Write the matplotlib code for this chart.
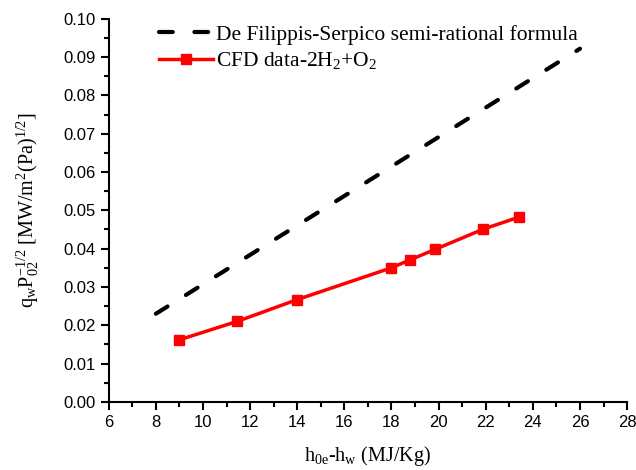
import matplotlib
matplotlib.use('Agg')
import matplotlib.pyplot as plt
from matplotlib.ticker import MultipleLocator, FormatStrFormatter

# Data
formula_h = [8.0, 26.0]
formula_q = [0.0230, 0.0922]

cfd_h = [9.0, 11.45, 14.0, 18.0, 18.8, 19.85, 21.9, 23.4]
cfd_q = [0.0162, 0.0210, 0.0267, 0.0350, 0.0371, 0.0398, 0.0451, 0.0482]

plt.rcParams['mathtext.fontset'] = 'custom'
plt.rcParams['mathtext.rm'] = 'Liberation Serif'
plt.rcParams['mathtext.it'] = 'Liberation Serif'
plt.rcParams['mathtext.default'] = 'rm'

fig = plt.figure(figsize=(6.36, 4.70), dpi=100)
ax = fig.add_axes([0.171, 0.145, 0.815, 0.815])

ax.plot(formula_h, formula_q, color='black', linestyle=(0, (3.3, 5.2)), linewidth=3,
        dash_capstyle='round', label='De Filippis-Serpico semi-rational formula')
ax.plot(cfd_h, cfd_q, color='red', linewidth=2.5, marker='s', markersize=7,
        label=r'CFD data-2H$_2$+O$_2$')

ax.set_xlim(6, 28)
ax.set_ylim(0, 0.10)
ax.xaxis.set_major_locator(MultipleLocator(2))
ax.xaxis.set_minor_locator(MultipleLocator(1))
ax.yaxis.set_major_locator(MultipleLocator(0.01))
ax.yaxis.set_minor_locator(MultipleLocator(0.005))
ax.yaxis.set_major_formatter(FormatStrFormatter('%.2f'))

for s in ['top', 'right']:
    ax.spines[s].set_visible(False)
for s in ['left', 'bottom']:
    ax.spines[s].set_linewidth(1.5)
ax.tick_params(which='major', direction='out', length=6, width=1.5, labelsize=12)
ax.tick_params(which='minor', direction='out', length=3.5, width=1.5)
for lbl in ax.get_xticklabels() + ax.get_yticklabels():
    lbl.set_fontfamily('Liberation Sans')

ax.set_xlabel(r'h$_{0e}$-h$_w$ (MJ/Kg)', fontfamily='Liberation Serif', fontsize=14.5,
              labelpad=10)
ax.set_ylabel(r'q$_w$P$_{02}^{-1/2}$ [MW/m$^2$(Pa)$^{1/2}$]', fontfamily='Liberation Serif',
              fontsize=14.5, labelpad=16)

ax.legend(loc='upper left', bbox_to_anchor=(0.06, 1.035), frameon=False, handlelength=2.5,
          prop={'family': 'Liberation Serif', 'size': 15.5}, labelspacing=0.25,
          handletextpad=0.15)

fig.savefig('out.png', dpi=100)
